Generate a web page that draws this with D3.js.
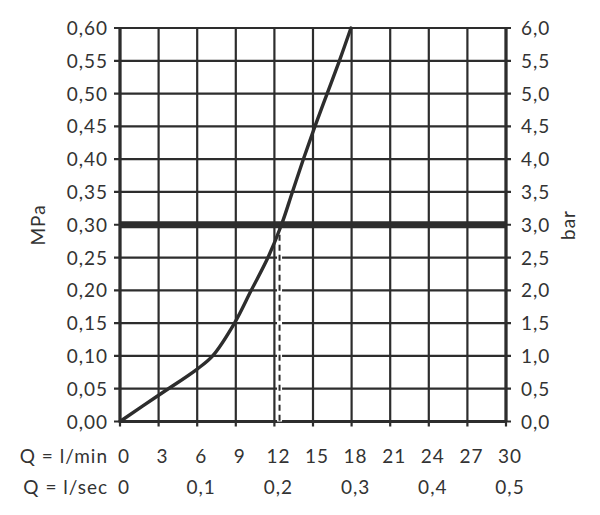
<!DOCTYPE html>
<html><head><meta charset="utf-8">
<script src="https://cdn.jsdelivr.net/npm/d3@7"></script>
<style>body{margin:0;background:#fff}svg{display:block}text{font-family:Lato,"Open Sans",sans-serif;fill:#333;letter-spacing:1px}</style>
</head><body><svg id="c" width="600" height="515"></svg>
<script>
const flowLmin = [0, 3, 6, 7.2, 8.9, 10.2, 11.5, 12.55, 13.4, 14.25, 15.15, 16.1, 17.05, 17.95];
const pressureMPa = [0, 0.04, 0.08, 0.10, 0.15, 0.20, 0.25, 0.30, 0.35, 0.40, 0.45, 0.50, 0.55, 0.60];
const xTicks = [0, 3, 6, 9, 12, 15, 18, 21, 24, 27, 30];
const secTicks = [0, 6, 12, 18, 24, 30];
const secLabels = ["0", "0,1", "0,2", "0,3", "0,4", "0,5"];
const yTicks = [0, 0.05, 0.10, 0.15, 0.20, 0.25, 0.30, 0.35, 0.40, 0.45, 0.50, 0.55, 0.60];
const refPressure = 0.30;
const refFlow = 12.4;

const svg = d3.select("#c");
const L = 120, R = 506, T = 28, B = 421.5;
const x = d3.scaleLinear().domain([0, 30]).range([L, R]);
const y = d3.scaleLinear().domain([0, 0.6]).range([B, T]);
const col = "#2d2d2d";
const fmt = v => v.toFixed(2).replace(".", ",");
const fmtBar = v => (v * 10).toFixed(1).replace(".", ",");
const fs = 19;

// grid
const g = svg.append("g");
g.selectAll(".vx").data(xTicks).join("line")
  .attr("x1", d => x(d)).attr("x2", d => x(d)).attr("y1", T).attr("y2", B + 5)
  .attr("stroke", col).attr("stroke-width", 2.2);
g.selectAll(".hy").data(yTicks).join("line")
  .attr("x1", L - 6).attr("x2", R + 5).attr("y1", d => y(d)).attr("y2", d => y(d))
  .attr("stroke", col).attr("stroke-width", 2.2);
// frame thicker
g.append("line").attr("x1", L).attr("x2", L).attr("y1", T).attr("y2", B).attr("stroke", col).attr("stroke-width", 3.2);
g.append("line").attr("x1", R).attr("x2", R).attr("y1", T).attr("y2", B).attr("stroke", col).attr("stroke-width", 3.2);
g.append("line").attr("x1", L).attr("x2", R).attr("y1", B).attr("y2", B).attr("stroke", col).attr("stroke-width", 3.2);

// reference lines
svg.append("line").attr("x1", x(refFlow)).attr("x2", x(refFlow)).attr("y1", y(refPressure)).attr("y2", B)
  .attr("stroke", "#fff").attr("stroke-width", 5);
svg.append("line").attr("x1", x(refFlow)).attr("x2", x(refFlow)).attr("y1", y(refPressure)).attr("y2", B)
  .attr("stroke", col).attr("stroke-width", 2).attr("stroke-dasharray", "6,4");
svg.append("line").attr("x1", L).attr("x2", R).attr("y1", y(refPressure)).attr("y2", y(refPressure))
  .attr("stroke", col).attr("stroke-width", 7);

// curve
const pts = flowLmin.map((f, i) => [f, pressureMPa[i]]);
svg.append("path").attr("d", d3.line().x(d => x(d[0])).y(d => y(d[1])).curve(d3.curveCatmullRom.alpha(0.5))(pts))
  .attr("fill", "none").attr("stroke", col).attr("stroke-width", 3.4).attr("stroke-linecap", "round");

// labels
svg.selectAll(".yl").data(yTicks).join("text")
  .attr("x", 108).attr("y", d => y(d) + 7).attr("text-anchor", "end").attr("font-size", fs).text(fmt);
svg.selectAll(".yr").data(yTicks).join("text")
  .attr("x", 521).attr("y", d => y(d) + 7).attr("font-size", fs).text(fmtBar);
svg.selectAll(".xl").data(xTicks).join("text")
  .attr("x", d => x(d) + 4).attr("y", 463).attr("text-anchor", "middle").attr("font-size", fs).text(d => d);
svg.selectAll(".xs").data(secTicks).join("text")
  .attr("x", d => x(d) + 4).attr("y", 494).attr("text-anchor", "middle").attr("font-size", fs).text((d, i) => secLabels[i]);
svg.append("text").attr("x", 108).attr("y", 463).attr("text-anchor", "end").attr("font-size", fs).text("Q = l/min");
svg.append("text").attr("x", 108).attr("y", 494).attr("text-anchor", "end").attr("font-size", fs).text("Q = l/sec");
svg.append("text").attr("transform", "translate(45,225) rotate(-90)").attr("text-anchor", "middle").attr("font-size", fs).text("MPa");
svg.append("text").attr("transform", "translate(575,225) rotate(-90)").attr("text-anchor", "middle").attr("font-size", fs).text("bar");
</script></body></html>
